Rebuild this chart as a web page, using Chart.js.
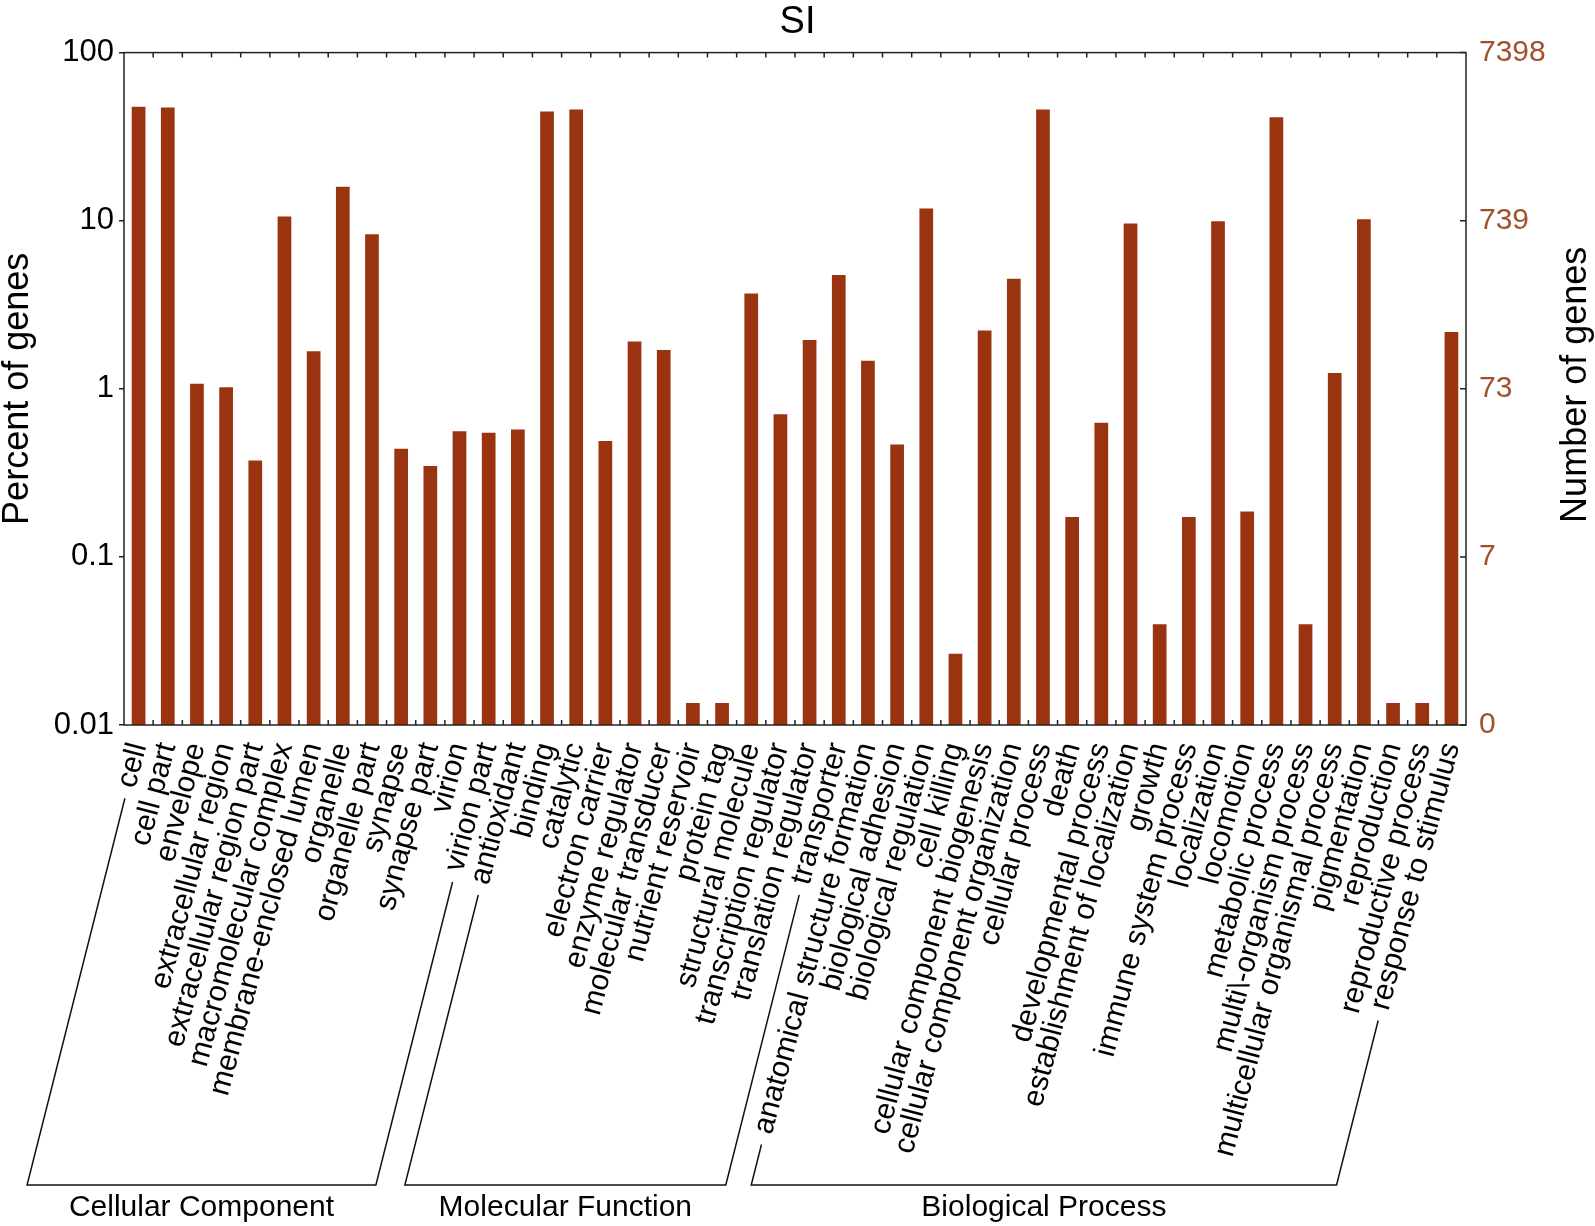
<!DOCTYPE html>
<html>
<head>
<meta charset="utf-8">
<script src="https://cdn.jsdelivr.net/npm/chart.js@4/dist/chart.umd.min.js"></script>
<style>
    html, body { margin: 0; padding: 0; background: #fff; }
    #wrap { width: 1595px; height: 1226px; position: relative; }
</style>
</head>
<body>
<div id="wrap"><canvas id="chart"></canvas></div>
<script>
    /* DATA */

    var categories = [
        'cell', 'cell part', 'envelope', 'extracellular region', 'extracellular region part',
        'macromolecular complex', 'membrane-enclosed lumen', 'organelle', 'organelle part',
        'synapse', 'synapse part', 'virion', 'virion part',
        'antioxidant', 'binding', 'catalytic', 'electron carrier', 'enzyme regulator',
        'molecular transducer', 'nutrient reservoir', 'protein tag', 'structural molecule',
        'transcription regulator', 'translation regulator', 'transporter',
        'anatomical structure formation', 'biological adhesion', 'biological regulation',
        'cell killing', 'cellular component biogenesis', 'cellular component organization',
        'cellular process', 'death', 'developmental process', 'establishment of localization',
        'growth', 'immune system process', 'localization', 'locomotion', 'metabolic process',
        'multi\\-organism process', 'multicellular organismal process', 'pigmentation',
        'reproduction', 'reproductive process', 'response to stimulus'
    ];

    var percentOfGenes = [
        47.6, 47.2, 1.07, 1.02, 0.375,
        10.6, 1.67, 15.9, 8.3,
        0.44, 0.347, 0.56, 0.547,
        0.573, 44.7, 45.9, 0.49, 1.91,
        1.70, 0.0135, 0.0135, 3.69,
        0.706, 1.95, 4.75,
        1.47, 0.466, 11.8,
        0.0265, 2.22, 4.52,
        45.9, 0.173, 0.628, 9.62,
        0.0397, 0.173, 9.93, 0.186, 41.2,
        0.0397, 1.24, 10.2,
        0.0135, 0.0135, 2.18
    ];

    var groupNames = ['Cellular Component', 'Molecular Function', 'Biological Process'];
    var groupFirst = [0, 13, 25];
    var groupLast = [12, 24, 45];

    var percentTicks = [0.01, 0.1, 1, 10, 100];
    var leftTickLabels = ['0.01', '0.1', '1', '10', '100'];
    var rightTickLabels = ['0', '7', '73', '739', '7398'];

    /* CHART */

    var FONT = '"Liberation Sans", Arial, Helvetica, sans-serif';
    var BAR_COLOR = '#9a3410';
    var RIGHT_COLOR = '#a1522c';
    var LABEL_ROTATION = 75;
    var LABEL_SIZE = 30;
    var LABEL_PAD = 6;
    var BRACKET_Y = 1185;

    var setTicks = (axis) => {
        axis.ticks = percentTicks.map(v => ({ value: v }));
    };

    // frame, inward ticks, right axis title and the GO category brackets
    var framePlugin = {
        id: 'frame',
        afterDraw: (chart) => {
            var ctx = chart.ctx;
            var area = chart.chartArea;
            var x = chart.scales.x;
            var y2 = chart.scales.y2;

            ctx.save();
            ctx.strokeStyle = '#222';
            ctx.lineWidth = 1.5;
            ctx.strokeRect(area.left, area.top, area.right - area.left, area.bottom - area.top);

            ctx.beginPath();
            for (var i = 0; i < categories.length - 1; i++) {
                var bx = (x.getPixelForValue(i) + x.getPixelForValue(i + 1)) / 2;
                ctx.moveTo(bx, area.top);
                ctx.lineTo(bx, area.top + 5);
                ctx.moveTo(bx, area.bottom);
                ctx.lineTo(bx, area.bottom - 5);
            }
            percentTicks.forEach(v => {
                var py = y2.getPixelForValue(v);
                ctx.moveTo(area.right - 6, py);
                ctx.lineTo(area.right, py);
            });
            ctx.stroke();

            // right axis title reads bottom to top like the left one
            ctx.save();
            ctx.translate(1576, (area.top + area.bottom) / 2 - 4);
            ctx.rotate(-Math.PI / 2);
            ctx.font = '36px ' + FONT;
            ctx.fillStyle = '#000';
            ctx.textAlign = 'center';
            ctx.textBaseline = 'middle';
            ctx.fillText('Number of genes', 0, 0);
            ctx.restore();

            // bracket lines continue each outer label downwards
            var rad = LABEL_ROTATION * Math.PI / 180;
            var lineRad = 75.8 * Math.PI / 180;
            var lh = LABEL_SIZE * 1.2;
            var y0 = area.bottom + LABEL_PAD;
            ctx.font = LABEL_SIZE + 'px ' + FONT;

            var lineFoot = (index) => {
                var w = ctx.measureText(categories[index]).width + 19;
                var tx = x.getPixelForValue(index);
                var sx = tx - w * Math.cos(rad) + 3 * Math.sin(rad);
                var sy = y0 + w * Math.sin(rad) + lh / 2 * Math.cos(rad) + 3 * Math.cos(rad);
                var ex = sx - (BRACKET_Y - sy) / Math.tan(lineRad);
                return { sx: sx, sy: sy, ex: ex };
            };

            ctx.lineWidth = 1.5;
            ctx.strokeStyle = '#111';
            ctx.fillStyle = '#000';
            ctx.textAlign = 'center';
            ctx.textBaseline = 'middle';
            groupNames.forEach((name, g) => {
                var a = lineFoot(groupFirst[g]);
                var b = lineFoot(groupLast[g]);
                ctx.beginPath();
                ctx.moveTo(a.sx, a.sy);
                ctx.lineTo(a.ex, BRACKET_Y);
                ctx.lineTo(b.ex, BRACKET_Y);
                ctx.lineTo(b.sx, b.sy);
                ctx.stroke();
                ctx.font = '30px ' + FONT;
                ctx.fillText(name, (a.ex + b.ex) / 2, 1208);
                ctx.font = LABEL_SIZE + 'px ' + FONT;
            });
            ctx.restore();
        }
    };

    var config = {
        type: 'bar',
        data: {
            labels: categories,
            datasets: [
                {
                    label: 'Percent of genes',
                    data: percentOfGenes,
                    backgroundColor: BAR_COLOR,
                    borderWidth: 0,
                    barPercentage: 0.47,
                    categoryPercentage: 1,
                    yAxisID: 'y'
                }
            ]
        },
        options: {
            responsive: true,
            maintainAspectRatio: false,
            animation: false,
            layout: { padding: 0 },
            scales: {
                x: {
                    offset: true,
                    grid: { display: false },
                    border: { display: false },
                    ticks: {
                        autoSkip: false,
                        minRotation: LABEL_ROTATION,
                        maxRotation: LABEL_ROTATION,
                        padding: LABEL_PAD,
                        color: '#000',
                        font: { family: FONT, size: LABEL_SIZE, lineHeight: 1.2 }
                    },
                    afterFit: (axis) => { axis.height = 501; }
                },
                y: {
                    type: 'logarithmic',
                    position: 'left',
                    min: 0.01,
                    max: 100,
                    afterBuildTicks: setTicks,
                    grid: { drawOnChartArea: false, tickLength: 5, color: '#222', lineWidth: 1.5 },
                    border: { display: false },
                    ticks: {
                        padding: 5,
                        color: '#000',
                        font: { family: FONT, size: 31 },
                        callback: (v, i) => leftTickLabels[i]
                    },
                    title: {
                        display: true,
                        text: 'Percent of genes',
                        color: '#000',
                        padding: 0,
                        font: { family: FONT, size: 36, lineHeight: 1 }
                    },
                    afterFit: (axis) => { axis.width = 124; }
                },
                y2: {
                    type: 'logarithmic',
                    position: 'right',
                    min: 0.01,
                    max: 100,
                    afterBuildTicks: setTicks,
                    grid: { drawOnChartArea: false, drawTicks: false },
                    border: { display: false },
                    ticks: {
                        padding: 13,
                        color: RIGHT_COLOR,
                        font: { family: FONT, size: 30 },
                        callback: (v, i) => rightTickLabels[i]
                    },
                    afterFit: (axis) => { axis.width = 129; }
                }
            },
            plugins: {
                title: {
                    display: true,
                    text: 'SI',
                    color: '#000',
                    padding: { top: 0, bottom: 7 },
                    font: { family: FONT, size: 38, weight: 'normal', lineHeight: 1.2 }
                },
                legend: { display: false },
                tooltip: { enabled: false }
            }
        },
        plugins: [framePlugin]
    };

    var chart = new Chart(document.getElementById('chart'), config);
</script>
</body>
</html>
